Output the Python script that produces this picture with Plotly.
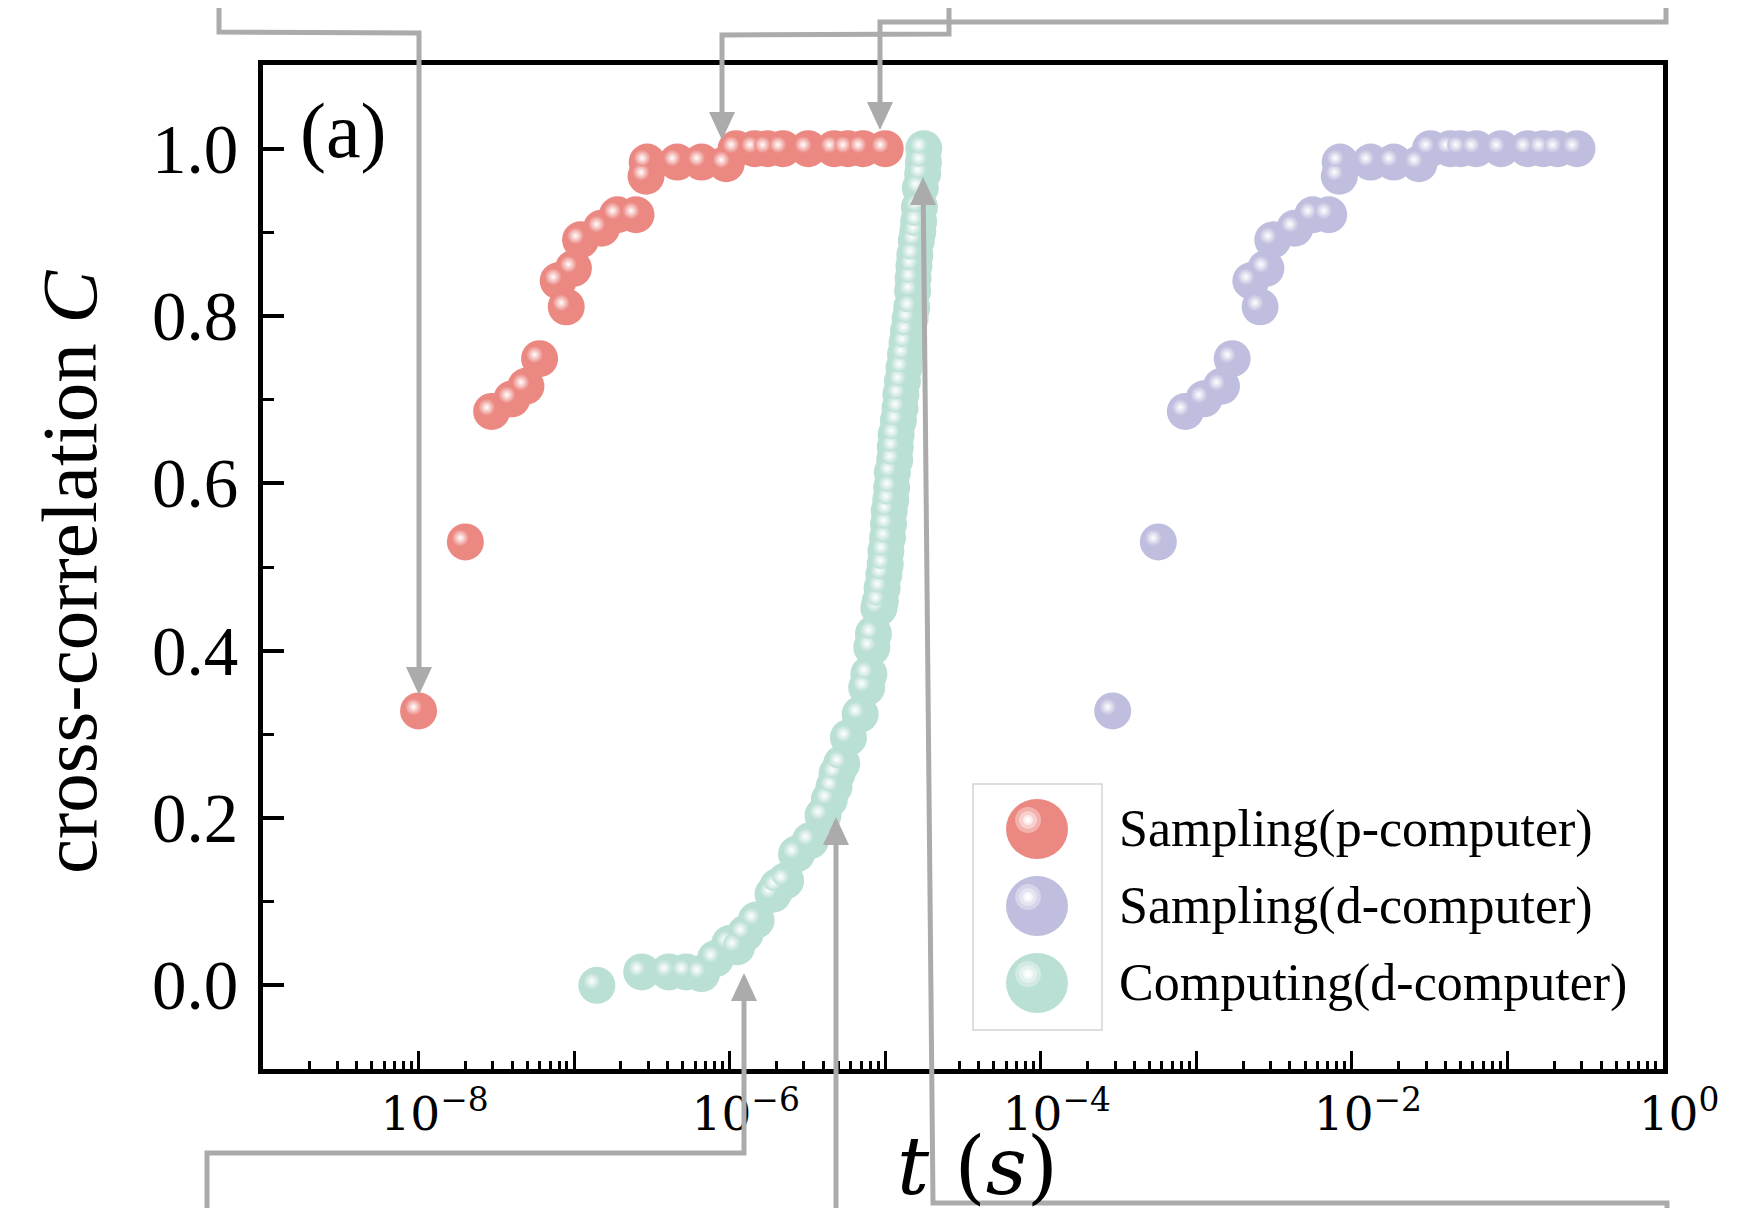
import plotly.graph_objects as go

# ---------------- data ----------------
red_t = [1.0e-8, 2.0e-8, 2.95e-8, 3.98e-8, 4.9e-8, 6.0e-8, 8.9e-8, 7.9e-8, 9.9e-8,
         1.1e-7, 1.5e-7, 1.9e-7, 2.5e-7, 2.9e-7, 2.95e-7, 4.6e-7, 6.6e-7, 9.5e-7,
         1.1e-6, 1.45e-6, 1.75e-6, 2.2e-6, 3.2e-6, 4.7e-6, 5.75e-6, 7.2e-6, 1.0e-5]
red_c = [0.328, 0.530, 0.686, 0.701, 0.716, 0.749, 0.811, 0.842, 0.857,
         0.891, 0.905, 0.921, 0.921, 0.967, 0.984, 0.984, 0.984, 0.982,
         1.0, 1.0, 1.0, 1.0, 1.0, 1.0, 1.0, 1.0, 1.0]

purple_t = [2.9e-4, 5.7e-4, 8.5e-4, 1.12e-3, 1.45e-3, 1.7e-3, 2.57e-3, 2.24e-3, 2.8e-3,
            3.1e-3, 4.3e-3, 5.6e-3, 7.1e-3, 8.3e-3, 8.4e-3, 1.32e-2, 1.86e-2, 2.7e-2,
            3.2e-2, 4.3e-2, 5.0e-2, 6.3e-2, 9.1e-2, 0.135, 0.17, 0.21, 0.28]
purple_c = [0.328, 0.530, 0.686, 0.701, 0.716, 0.749, 0.811, 0.842, 0.857,
            0.891, 0.905, 0.921, 0.921, 0.967, 0.984, 0.984, 0.984, 0.982,
            1.0, 1.0, 1.0, 1.0, 1.0, 1.0, 1.0, 1.0, 1.0]

teal_t = [1.40e-7, 2.72e-7, 4.07e-7, 5.25e-7, 6.6e-7, 8.1e-7, 1.0e-6, 1.11e-6, 1.26e-6,
          1.48e-6, 1.9e-6, 2.04e-6, 2.29e-6, 2.69e-6, 3.3e-6, 3.98e-6, 4.37e-6, 4.68e-6,
          4.9e-6, 5.25e-6, 5.8e-6, 6.9e-6, 7.6e-6, 7.85e-6, 8.2e-6, 8.4e-6, 9.1e-6,
          9.3e-6, 9.55e-6, 9.8e-6, 1.0e-5, 1.01e-5, 1.035e-5, 1.05e-5, 1.06e-5, 1.085e-5,
          1.1e-5, 1.11e-5, 1.15e-5, 1.16e-5, 1.175e-5, 1.215e-5, 1.245e-5, 1.26e-5, 1.29e-5,
          1.32e-5, 1.35e-5, 1.38e-5, 1.41e-5, 1.445e-5, 1.48e-5, 1.5e-5, 1.51e-5, 1.53e-5,
          1.55e-5, 1.585e-5, 1.62e-5, 1.64e-5, 1.66e-5, 1.68e-5, 1.74e-5, 1.76e-5, 1.77e-5]
teal_c = [0.0, 0.016, 0.016, 0.016, 0.014, 0.032, 0.050, 0.046, 0.062,
          0.078, 0.109, 0.118, 0.125, 0.157, 0.173, 0.203, 0.222, 0.237,
          0.253, 0.265, 0.296, 0.324, 0.356, 0.372, 0.404, 0.420, 0.451,
          0.459, 0.475, 0.491, 0.503, 0.519, 0.535, 0.551, 0.567, 0.580,
          0.595, 0.613, 0.628, 0.643, 0.658, 0.675, 0.690, 0.706, 0.722,
          0.738, 0.754, 0.768, 0.782, 0.797, 0.810, 0.830, 0.845, 0.860,
          0.873, 0.890, 0.901, 0.913, 0.930, 0.953, 0.970, 0.984, 1.000]

series_names = ["Sampling(p-computer)", "Sampling(d-computer)", "Computing(d-computer)"]
series_colors = ["#EC8882", "#C0BEDE", "#BADFD5"]

x_tickvals = [1e-9, 1e-8, 1e-7, 1e-6, 1e-5, 1e-4, 1e-3, 1e-2, 1e-1, 1e0]
x_ticktext = ["", "10<sup>\u22128</sup>", "", "10<sup>\u22126</sup>", "",
              "10<sup>\u22124</sup>", "", "10<sup>\u22122</sup>", "", "10<sup>0</sup>"]
y_tickvals = [0.0, 0.2, 0.4, 0.6, 0.8, 1.0]
y_ticktext = ["0.0", "0.2", "0.4", "0.6", "0.8", "1.0"]
y_minor = [0.1, 0.3, 0.5, 0.7, 0.9]

# ---------------- geometry (page pixels) ----------------
PAGE_W, PAGE_H = 1737, 1208
BODY = 8                  # default body margin of the html page
W, H = PAGE_W - BODY, PAGE_H - BODY
PX0, PX1 = 258, 1663      # full plotting region (page px)
PY0, PY1 = 61, 1069
DX, DY = 5, 4             # highlight offset (left / up)


def px(x):
    return (x - PX0) / (PX1 - PX0)


def py(y):
    return (PY1 - y) / (PY1 - PY0)


def mix(c, f):
    c = c.lstrip('#')
    r, g, b = int(c[0:2], 16), int(c[2:4], 16), int(c[4:6], 16)
    r = int(r + (255 - r) * f); g = int(g + (255 - g) * f); b = int(b + (255 - b) * f)
    return f"rgb({r},{g},{b})"


fig = go.Figure()
data = [(red_t, red_c), (purple_t, purple_c), (teal_t, teal_c)]
for (t, c), col, name in zip(data, series_colors, series_names):
    fig.add_trace(go.Scatter(x=t, y=c, mode="markers", name=name, showlegend=False,
                             marker=dict(size=37, color=col, line=dict(width=0)),
                             xaxis="x", yaxis="y"))
for (t, c), col, name in zip(data, series_colors, series_names):
    fig.add_trace(go.Scatter(x=t, y=c, mode="markers", showlegend=False, hoverinfo="skip",
                             marker=dict(size=17, color=col, line=dict(width=0),
                                         gradient=dict(type="radial", color="white")),
                             xaxis="x2", yaxis="y2"))

x_minor = [k * 10.0 ** n for n in range(-9, 0) for k in range(2, 10)]
serif = "Liberation Serif"

fig.update_layout(
    width=W, height=H, autosize=False,
    margin=dict(l=PX0 - BODY, r=PAGE_W - PX1, t=PY0 - BODY, b=PAGE_H - PY1, pad=0),
    paper_bgcolor="white", plot_bgcolor="rgba(0,0,0,0)",
    showlegend=False,
    xaxis=dict(type="log", range=[-9, 0], domain=[DX / (PX1 - PX0), 1], anchor="y",
               tickmode="array", tickvals=x_tickvals, ticktext=x_ticktext,
               ticks="inside", ticklen=18, tickwidth=3, tickcolor="black",
               showline=True, linewidth=5, linecolor="black", mirror=True,
               showgrid=False, zeroline=False, ticklabelstandoff=0, ticklabelshift=16,
               tickfont=dict(family="DejaVu Serif", size=47, color="black"),
               minor=dict(tickmode="array", tickvals=x_minor, ticks="inside", ticklen=8,
                          tickwidth=2.5, tickcolor="black", showgrid=False)),
    yaxis=dict(range=[-0.1, 1.1], domain=[0, 1 - DY / (PY1 - PY0)], anchor="x",
               tickmode="array", tickvals=y_tickvals, ticktext=y_ticktext,
               ticks="inside", ticklen=21, tickwidth=4, tickcolor="black",
               showline=True, linewidth=5, linecolor="black", mirror=True,
               showgrid=False, zeroline=False, ticklabelstandoff=6,
               tickfont=dict(family=serif, size=69, color="black"),
               minor=dict(tickmode="array", tickvals=y_minor, ticks="inside", ticklen=11,
                          tickwidth=3, tickcolor="black", showgrid=False)),
    xaxis2=dict(type="log", range=[-9, 0], domain=[0, 1 - DX / (PX1 - PX0)], anchor="y2",
                visible=False, showgrid=False, zeroline=False),
    yaxis2=dict(range=[-0.1, 1.1], domain=[DY / (PY1 - PY0), 1], anchor="x2",
                visible=False, showgrid=False, zeroline=False),
)

annotations = []
# axis titles
annotations.append(dict(text="cross-correlation <i>C</i>", textangle=-90, x=px(69), y=py(572),
                        xref="paper", yref="paper", xanchor="center", yanchor="middle",
                        showarrow=False, font=dict(family=serif, size=79, color="black")))
annotations.append(dict(text="<i>t</i> (<i>s</i>)", x=px(977), y=py(1166),
                        xref="paper", yref="paper", xanchor="center", yanchor="middle",
                        showarrow=False, font=dict(family="DejaVu Serif", size=80, color="black")))
annotations.append(dict(text="(a)", x=px(343), y=py(131), xref="paper", yref="paper",
                        xanchor="center", yanchor="middle", showarrow=False,
                        font=dict(family=serif, size=78, color="black")))

shapes = []
# custom legend
shapes.append(dict(type="rect", xref="paper", yref="paper", x0=px(973), x1=px(1102),
                   y0=py(1030), y1=py(784), line=dict(color="#D4D4D4", width=1.5),
                   fillcolor="rgba(0,0,0,0)", layer="above"))
leg_cy = [829, 906, 983]
for cy, col, name in zip(leg_cy, series_colors, series_names):
    cx = 1037
    shapes.append(dict(type="circle", xref="paper", yref="paper", x0=px(cx - 31), x1=px(cx + 31),
                       y0=py(cy + 30), y1=py(cy - 30), fillcolor=col, line=dict(width=0)))
    hx, hy = cx - 9, cy - 9
    for r, f in [(13, 0.35), (9, 0.6), (5, 0.85), (2.5, 1.0)]:
        shapes.append(dict(type="circle", xref="paper", yref="paper", x0=px(hx - r), x1=px(hx + r),
                           y0=py(hy + r), y1=py(hy - r), fillcolor=mix(col, f), line=dict(width=0)))
    annotations.append(dict(text=name, x=px(1117), y=py(cy), xref="paper", yref="paper",
                            xanchor="left", yanchor="middle", showarrow=False,
                            font=dict(family=serif, size=52, color="black")))

# connector arrows (gray)
GRAY = "#ABABAB"
LW = 5


def polyline(pts):
    d = "M " + " L ".join(f"{px(x):.5f},{py(y):.5f}" for x, y in pts)
    shapes.append(dict(type="path", xref="paper", yref="paper", path=d,
                       line=dict(color=GRAY, width=LW), layer="above"))


def head(tx, ty, down=True, hw=13, hl=28):
    by = ty - hl if down else ty + hl
    d = (f"M {px(tx):.5f},{py(ty):.5f} L {px(tx - hw):.5f},{py(by):.5f} "
         f"L {px(tx + hw):.5f},{py(by):.5f} Z")
    shapes.append(dict(type="path", xref="paper", yref="paper", path=d,
                       fillcolor=GRAY, line=dict(color=GRAY, width=0), layer="above"))


# top arrows
polyline([(219, 0), (219, 32), (419, 33), (419, 695 - 26)])
head(419, 695, down=True)
polyline([(949, 0), (949, 34), (722, 35), (722, 140 - 26)])
head(722, 140, down=True)
polyline([(1666, 0), (1666, 22), (880, 22), (880, 130 - 26)])
head(880, 130, down=True)
# bottom arrows
polyline([(207, 1215), (207, 1153), (744, 1153), (744, 973 + 26)])
head(744, 973, down=False)
polyline([(836, 1215), (836, 817 + 26)])
head(836, 817, down=False)
polyline([(1667, 1215), (1667, 1203), (933, 1203), (923.3, 177 + 26)])
head(923, 177, down=False)

fig.update_layout(shapes=shapes, annotations=annotations)

fig.write_html("out.html")
